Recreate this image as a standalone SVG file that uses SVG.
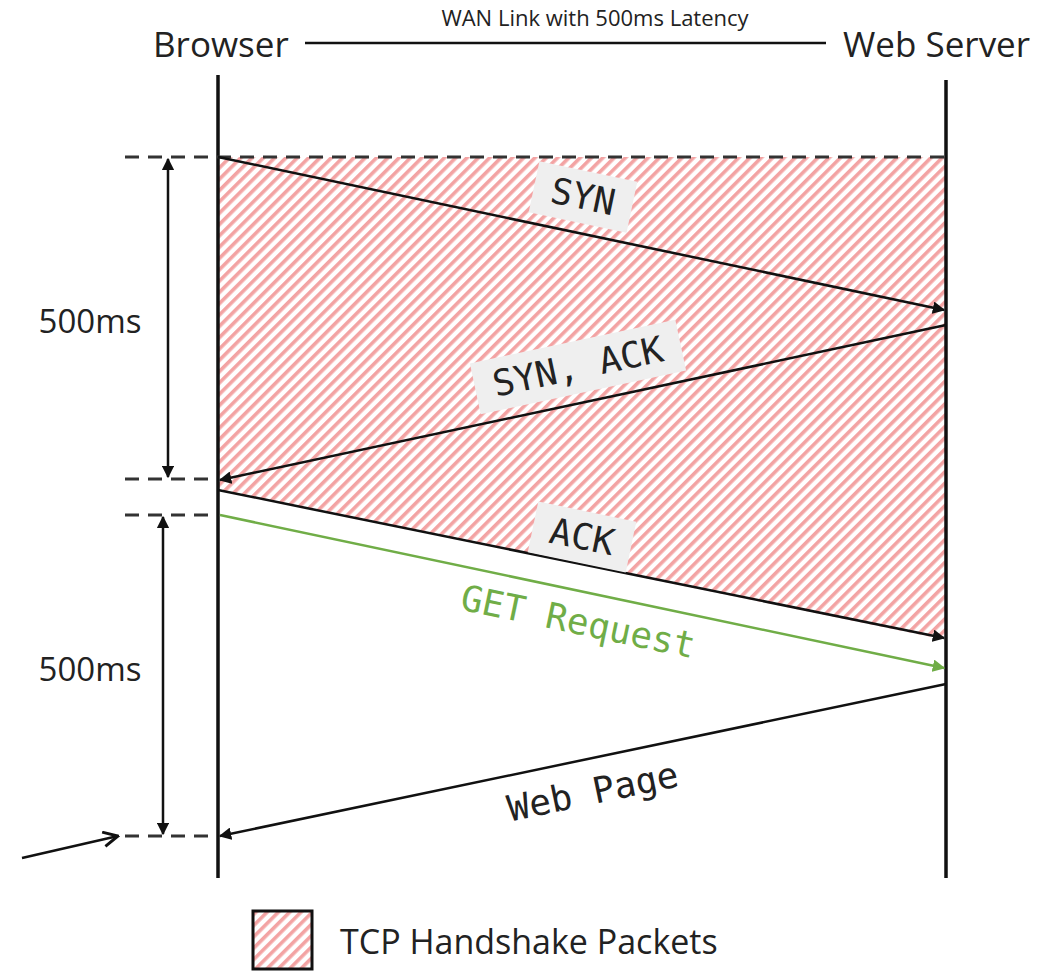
<svg xmlns="http://www.w3.org/2000/svg" width="1041" height="974" viewBox="0 0 1041 974">
<style>
.hdr{font-family:"Open Sans","Liberation Sans",sans-serif;fill:#222}
.mono{font-family:"DejaVu Sans Mono","Liberation Mono",monospace;font-size:36px;fill:#222}
.life{stroke:#111;stroke-width:3.5;fill:none}
.dash{stroke:#333;stroke-width:3;stroke-dasharray:14 9;fill:none}
.msg{stroke:#111;stroke-width:2.5;fill:none;marker-end:url(#ah)}
.dim{stroke:#111;stroke-width:2.5;fill:none;marker-start:url(#ah);marker-end:url(#ah)}
.lbl{fill:#efefef}
</style>
<defs>
<pattern id="hatch" width="8" height="8" patternUnits="userSpaceOnUse" patternTransform="rotate(45)">
<rect width="8" height="8" fill="#fff"/>
<rect width="3.6" height="8" fill="#f3a3a3"/>
</pattern>
<marker id="ah" viewBox="0 0 10 10" refX="9" refY="5" markerWidth="5" markerHeight="5" orient="auto-start-reverse" markerUnits="strokeWidth">
<path d="M0,0 L10,5 L0,10 z" fill="#111"/>
</marker>
<marker id="ahg" viewBox="0 0 10 10" refX="9" refY="5" markerWidth="5" markerHeight="5" orient="auto" markerUnits="strokeWidth">
<path d="M0,0 L10,5 L0,10 z" fill="#70ad47"/>
</marker>
<marker id="open" viewBox="0 0 12 12" refX="11" refY="6" markerWidth="7" markerHeight="7" orient="auto" markerUnits="strokeWidth">
<path d="M1,1 L11,6 L1,11" fill="none" stroke="#111" stroke-width="2"/>
</marker>
</defs>

<rect width="1041" height="974" fill="#fff"/>

<g id="handshake-area">
<polygon points="218,157 946,157 946,640 218,490" fill="url(#hatch)"/>
</g>

<g id="header">
<text class="hdr" x="153" y="57" font-size="35">Browser</text>
<text class="hdr" x="843" y="57" font-size="35">Web Server</text>
<line x1="305" y1="43" x2="826" y2="43" stroke="#111" stroke-width="2.5"/>
<text class="hdr" x="595" y="26" font-size="22" text-anchor="middle">WAN Link with 500ms Latency</text>
</g>

<g id="browser">
<line class="life" x1="218" y1="75" x2="218" y2="878"/>
</g>
<g id="webserver">
<line class="life" x1="946" y1="80" x2="946" y2="878"/>
</g>

<g id="guides">
<line class="dash" x1="125" y1="157" x2="946" y2="157"/>
<line class="dash" x1="125" y1="479" x2="216" y2="479"/>
<line class="dash" x1="125" y1="515" x2="216" y2="515"/>
<line class="dash" x1="125" y1="836" x2="216" y2="836"/>
</g>

<g id="connectors">
<line class="msg" x1="218" y1="157" x2="944" y2="310"/>
<line class="msg" x1="946" y1="325" x2="220" y2="480"/>
<line stroke="#111" stroke-width="2.5" x1="218" y1="490" x2="944" y2="638" marker-end="url(#ah)"/>
<line stroke="#70ad47" stroke-width="2.5" x1="220" y1="515" x2="944" y2="668" marker-end="url(#ahg)"/>
<line class="msg" x1="946" y1="684" x2="220" y2="836"/>
<line class="dim" x1="168" y1="159" x2="168" y2="477"/>
<line class="dim" x1="163" y1="517" x2="163" y2="834"/>
<line stroke="#111" stroke-width="2.5" x1="22" y1="858" x2="118" y2="836" marker-end="url(#open)"/>
</g>

<g id="label-syn" transform="translate(583,197) rotate(11.9)">
<rect class="lbl" x="-50" y="-26" width="100" height="52"/>
<text class="mono" x="0" y="12" text-anchor="middle">SYN</text>
</g>
<g id="label-synack" transform="translate(578,367) rotate(-12)">
<rect class="lbl" x="-105" y="-26" width="210" height="52"/>
<text class="mono" x="0" y="12" text-anchor="middle">SYN, ACK</text>
</g>
<g id="label-ack" transform="translate(582,537) rotate(11.7)">
<rect class="lbl" x="-50" y="-26" width="100" height="52"/>
<text class="mono" x="0" y="12" text-anchor="middle">ACK</text>
</g>
<g id="label-get" transform="translate(578,622) rotate(11.9)">
<text class="mono" x="0" y="12" text-anchor="middle" style="fill:#70ad47">GET Request</text>
</g>
<g id="label-webpage" transform="translate(593,792) rotate(-11.8)">
<text class="mono" x="0" y="12" text-anchor="middle">Web Page</text>
</g>

<g id="dim-labels">
<text class="hdr" x="90" y="333" font-size="33" text-anchor="middle">500ms</text>
<text class="hdr" x="90" y="681" font-size="33" text-anchor="middle">500ms</text>
</g>

<g id="legend">
<rect x="253" y="911" width="59" height="58" fill="url(#hatch)" stroke="#111" stroke-width="3"/>
<text class="hdr" x="340" y="954" font-size="34">TCP Handshake Packets</text>
</g>
</svg>
